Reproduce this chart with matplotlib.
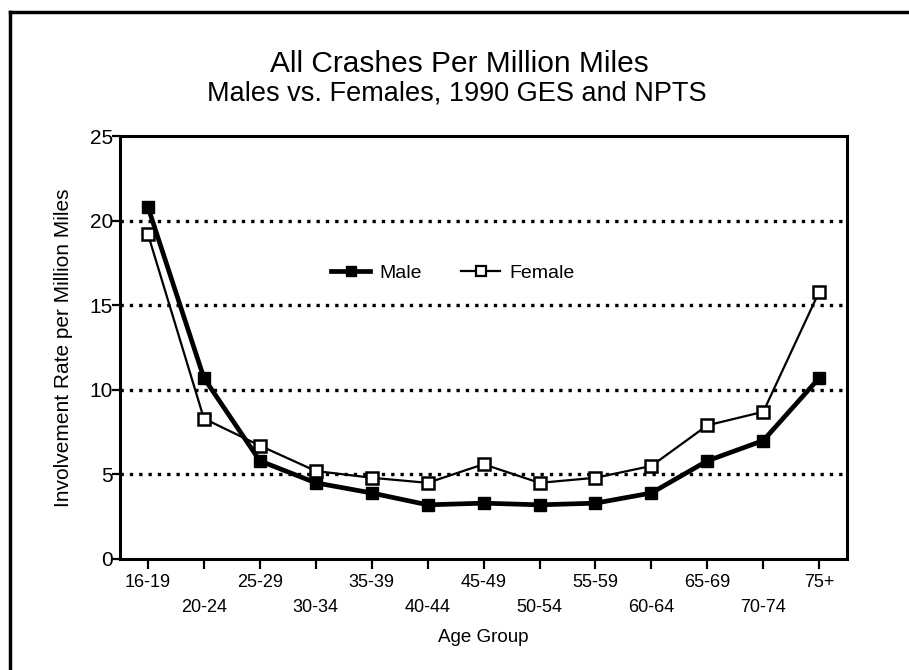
import matplotlib
matplotlib.use("Agg")
import matplotlib.pyplot as plt
from matplotlib.lines import Line2D
from matplotlib import font_manager

age_groups = ["16-19", "20-24", "25-29", "30-34", "35-39", "40-44", "45-49",
              "50-54", "55-59", "60-64", "65-69", "70-74", "75+"]
male = [20.8, 10.7, 5.8, 4.5, 3.9, 3.2, 3.3, 3.2, 3.3, 3.9, 5.8, 7.0, 10.7]
female = [19.2, 8.3, 6.7, 5.2, 4.8, 4.5, 5.6, 4.5, 4.8, 5.5, 7.9, 8.7, 15.8]
y_ticks = [0, 5, 10, 15, 20, 25]

names = {f.name for f in font_manager.fontManager.ttflist}
fam = "Liberation Sans Narrow" if "Liberation Sans Narrow" in names else "Liberation Sans"
plt.rcParams["font.family"] = [fam, "DejaVu Sans"]

fig = plt.figure(figsize=(9.09, 6.70), dpi=100)
ax = fig.add_axes([0.132, 0.1657, 0.8, 0.6313])

x = list(range(len(age_groups)))
ax.plot(x, male, color="black", lw=3.4, marker="s", ms=8, mfc="black",
        mec="black", label="Male", zorder=4)
ax.plot(x, female, color="black", lw=1.6, marker="s", ms=8, mfc="white",
        mec="black", mew=1.8, label="Female", zorder=3)

ax.set_xlim(-0.5, 12.5)
ax.set_ylim(0, 25)
ax.set_yticks(y_ticks)
ax.set_yticklabels([str(v) for v in y_ticks], fontsize=15)
for v in y_ticks[1:-1]:
    ax.axhline(v, color="black", ls=(0, (1.0, 1.8)), lw=2.4, zorder=1)

ax.set_xticks(x)
labels = [g if i % 2 == 0 else "\n" + g for i, g in enumerate(age_groups)]
ax.set_xticklabels(labels, fontsize=13, linespacing=1.6)
ax.tick_params(axis="both", direction="out", width=1.6, color="black")
ax.tick_params(axis="x", pad=4, length=7)
ax.tick_params(axis="y", pad=-1, length=6)
for s in ax.spines.values():
    s.set_linewidth(2.2)

ax.set_xlabel("Age Group", fontsize=13.5, labelpad=9)
ax.set_ylabel("Involvement Rate per Million Miles", fontsize=15, labelpad=12)

handles = [Line2D([], [], color="black", lw=3.4, marker="s", ms=7, mfc="black"),
           Line2D([], [], color="black", lw=1.6, marker="s", ms=7, mfc="white",
                  mew=1.6)]
ax.legend(handles, ["Male", "Female"], loc="center", bbox_to_anchor=(0.458, 0.675),
          ncol=2, frameon=False, fontsize=14, handlelength=2.0, columnspacing=2.0,
          handletextpad=0.5)

fig.text(0.505, 0.905, "All Crashes Per Million Miles", ha="center", va="center",
         fontsize=21.5)
fig.text(0.503, 0.860, "Males vs. Females, 1990 GES and NPTS", ha="center",
         va="center", fontsize=19.5)

# outer frame (left and top edges visible)
fig.add_artist(Line2D([0.011, 0.011], [0.0, 0.982], color="black", lw=2.5,
                      transform=fig.transFigure))
fig.add_artist(Line2D([0.011, 1.0], [0.982, 0.982], color="black", lw=2.5,
                      transform=fig.transFigure))

fig.savefig("out.png", dpi=100, facecolor="white")
